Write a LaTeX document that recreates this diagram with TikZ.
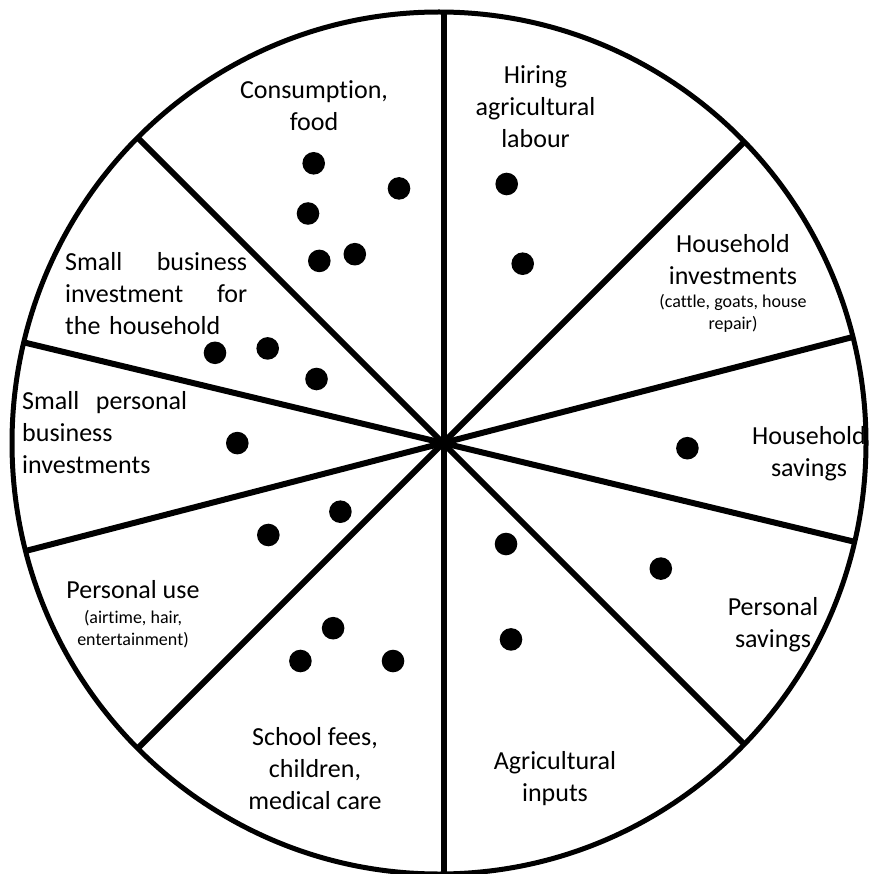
\documentclass[tikz,border=0pt]{standalone}
\usepackage{fontspec}
\setmainfont{Carlito}[Ligatures=NoCommon]
\usetikzlibrary{positioning}

\begin{document}
\begin{tikzpicture}[x=1pt,y=-1pt,
  rim/.style={draw=black,line width=5pt},
  spoke/.style={draw=black,line width=6pt},
  lbl/.style={align=center,inner sep=0pt,font=\fontsize{26}{32}\selectfont},
  sub/.style={align=center,inner sep=0pt,font=\fontsize{18}{22}\selectfont},
  jst/.style={align=left,inner sep=0pt,anchor=west,font=\fontsize{26}{32}\selectfont},
  dot/.style={circle,fill=black,inner sep=0pt,minimum size=22.6pt}]
  \useasboundingbox (0,0) rectangle (869,874);
  \coordinate (hub) at (443,443);
  % spokes, cut at the rim
  \begin{scope}
    \clip (439,443) ellipse [x radius=427, y radius=431];
    \draw[spoke] (443.5,-57) -- (443.5,943);
    \draw[spoke] (796.6,89.4) -- (89.4,796.6);
    \draw[spoke] (89.4,89.4) -- (796.6,796.6);
    \draw[spoke] (927,317.8) -- (-41,568.2);
    \draw[spoke] (929.2,559.7) -- (-43.2,326.3);
  \end{scope}
  \draw[rim] (439,443) ellipse [x radius=427, y radius=431];
  % labels
  \node[lbl] (cons) at (314,105.4) {Consumption,\\food};
  \node[lbl] (hire) at (535.5,107) {Hiring\\agricultural\\labour};
  \node[lbl] (hhinv) at (733,259.5) {Household\\investments};
  \node[sub] (hhinvsub) at (733,313.8) {(cattle, goats, house\\repair)};
  \node[lbl] (hhsav) at (809,454) {Household\\savings};
  \node[lbl] (psav) at (773,625) {Personal\\savings};
  \node[lbl] (agin) at (555,779) {Agricultural\\inputs};
  \node[lbl] (school) at (315,769) {School fees,\\children,\\medical care};
  \node[lbl] (puse) at (133,589.7) {Personal use};
  \node[sub] (pusesub) at (133,629) {(airtime, hair,\\entertainment)};
  \node[jst,text width=165pt] (spbi) at (22,433) {Small\hfill personal\\business\\investments};
  \node[jst,text width=182pt] (sbhh) at (65,293.8) {Small\hfill business\\investment\hfill for\\the household};
  % dots
  \node[dot] (c1) at (313.7,163.3) {};
  \node[dot] (c2) at (399,188.4) {};
  \node[dot] (c3) at (308,213.5) {};
  \node[dot] (c4) at (319.3,260.9) {};
  \node[dot] (c5) at (354.8,254.2) {};
  \node[dot] (h1) at (506.7,184) {};
  \node[dot] (h2) at (522.7,263.7) {};
  \node[dot] (b1) at (215,352.8) {};
  \node[dot] (b2) at (267.7,348.4) {};
  \node[dot] (b3) at (316.5,379) {};
  \node[dot] (s1) at (237.3,443.1) {};
  \node[dot] (v1) at (687.4,448.2) {};
  \node[dot] (p1) at (660.8,568.6) {};
  \node[dot] (a1) at (506,544) {};
  \node[dot] (a2) at (511,639.4) {};
  \node[dot] (u1) at (268.3,535) {};
  \node[dot] (u2) at (340.4,511.7) {};
  \node[dot] (f1) at (333.1,628.2) {};
  \node[dot] (f2) at (300.4,661) {};
  \node[dot] (f3) at (393,661) {};
\end{tikzpicture}
\end{document}
